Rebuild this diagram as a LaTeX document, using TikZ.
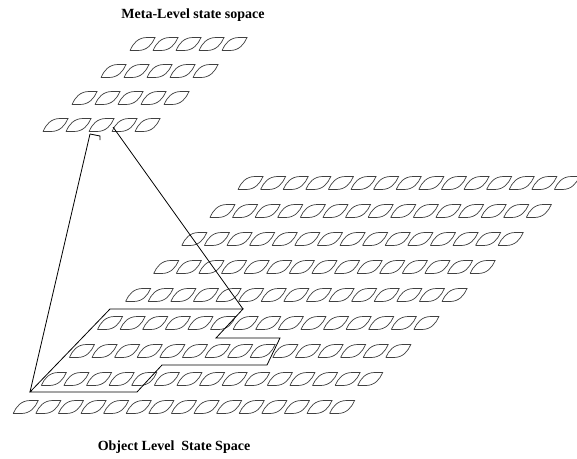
\documentclass[tikz,border=0pt]{standalone}
\usepackage{fontspec}
\setmainfont{Liberation Serif}
\begin{document}
\begin{tikzpicture}[x=1pt,y=-1pt,
  leafline/.style={draw=black!75,line width=0.7pt},
  edge/.style={draw=black,line width=0.8pt},
  title/.style={font=\fontsize{14}{16}\selectfont\bfseries,inner sep=0pt},
  leaf/.pic={\path[leafline] (0,0) -- (8,0) .. controls (17,0) and (22,-6) .. (25,-13) -- (17,-13) .. controls (8,-13) and (3,-7) .. (0,0);}]
\useasboundingbox[fill=white] (0,0) rectangle (577,458);
% meta level grid: 4 rows x 5
\foreach \r in {0,...,3}{
  \foreach \c in {0,...,4}{
    \pic at ({130-29*\r+23*\c},{44+27*\r+6.5}) {leaf};
  }
}
% object level grid: 9 rows x 15
\foreach \r in {0,...,8}{
  \foreach \c in {0,...,14}{
    \pic at ({238-28.1*\r+22.6*\c},{183+28*\r+6.5}) {leaf};
  }
}
% titles
\node[title] (meta) at (193,15) {Meta-Level state sopace};
\node[title] (obj) at (174,447) {Object Level\ \ State Space};
% projection lines
\coordinate (tl) at (90,134);
\coordinate (tr) at (113,127);
\coordinate (p1) at (110,309);
\coordinate (p2) at (243,309);
\coordinate (p3) at (216,338);
\coordinate (p4) at (280,338);
\coordinate (p5) at (267,365);
\coordinate (p6) at (162,365);
\coordinate (p7) at (137,392);
\coordinate (p8) at (30,392);
\coordinate (tk1) at (100,136);
\coordinate (tk2) at (100,140);
\draw[edge] (tl) -- (p8);
\draw[edge] (tr) -- (p2);
\draw[edge] (tl) -- (tk1) -- (tk2);
\draw[edge] (p1) -- (p2) -- (p3) -- (p4) -- (p5) -- (p6) -- (p7) -- (p8) -- cycle;
\end{tikzpicture}
\end{document}
